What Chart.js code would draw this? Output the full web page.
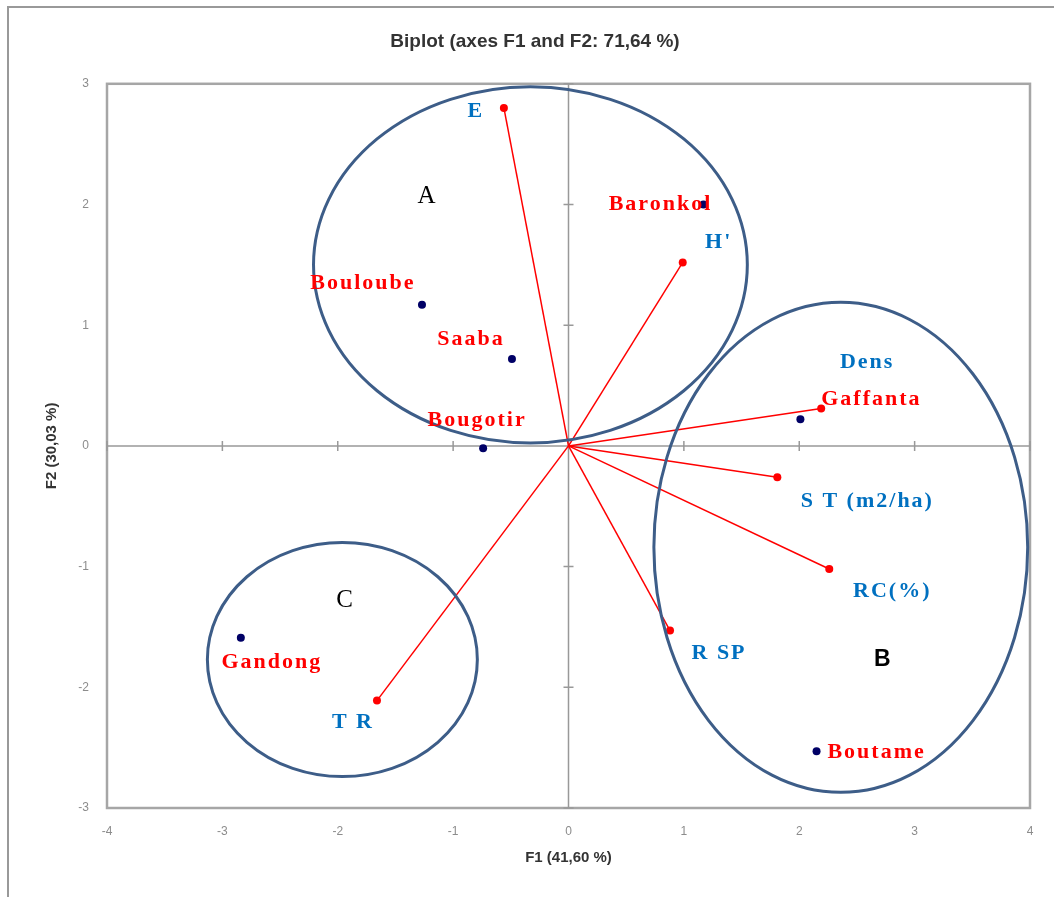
<!DOCTYPE html>
<html>
<head>
<meta charset="utf-8">
<script src="https://cdn.jsdelivr.net/npm/chart.js@4.4.1/dist/chart.umd.min.js"></script>
<style>
  html, body { margin: 0; padding: 0; background: #fff; }
  #wrap { width: 1054px; height: 897px; }
</style>
</head>
<body>
<div id="wrap"><canvas id="biplot"></canvas></div>
<script>
// variables (red vectors, blue labels)
const varNames = ["E", "H'", "Dens", "S T (m2/ha)", "RC(%)", "R SP", "T R"];
const varF1 = [-0.56, 0.99, 2.19, 1.81, 2.26, 0.88, -1.66];
const varF2 = [2.80, 1.52, 0.31, -0.26, -1.02, -1.53, -2.11];

// sites (navy dots, red labels)
const obsNames = ["Baronkol", "Bouloube", "Saaba", "Bougotir", "Gaffanta", "Gandong", "Boutame"];
const obsF1 = [1.17, -1.27, -0.49, -0.74, 2.01, -2.84, 2.15];
const obsF2 = [2.00, 1.17, 0.72, -0.02, 0.22, -1.59, -2.53];

// groups (ellipses)
const groupNames = ["A", "B", "C"];
const groupCx = [-0.33, 2.36, -1.96];
const groupCy = [1.50, -0.84, -1.77];
const groupRx = [1.88, 1.62, 1.17];
const groupRy = [1.475, 2.03, 0.97];
const groupLabelX = [-1.23, 2.72, -1.94];
const groupLabelY = [2.07, -1.77, -1.28];

const xTicks = [-4, -3, -2, -1, 0, 1, 2, 3, 4];
const yTicks = [-3, -2, -1, 0, 1, 2, 3];

// label offsets in pixels (layout only)
const varOffsets = [[-28, 3], [36, -20], [46, -46], [90, 24], [63, 22], [49, 23], [-24, 22]];
const obsOffsets = [[-43, 0], [-59, -21], [-41, -20], [-6, -28], [71, -20], [31, 24], [60, 1]];

const RED = "#ff0000";
const BLUE = "#0070c0";
const NAVY = "#000066";
const RING = "#3d5d88";
const GRAY = "#a6a6a6";

// one small line dataset per variable: origin -> point
const varDatasets = varNames.map((n, i) => ({
    label: n,
    type: "line",
    data: [{ x: 0, y: 0 }, { x: varF1[i], y: varF2[i] }],
    borderColor: RED,
    borderWidth: 1.5,
    pointRadius: [0, 4],
    pointBackgroundColor: RED,
    pointBorderWidth: 0,
    fill: false,
    tension: 0
}));

const obsDataset = {
    label: "sites",
    type: "scatter",
    data: obsF1.map((x, i) => ({ x: x, y: obsF2[i] })),
    backgroundColor: NAVY,
    borderWidth: 0,
    pointRadius: 4
};

// frame, zero axes with tick marks, outer border
const framePlugin = {
    id: "frame",
    beforeDatasetsDraw(chart) {
        const { ctx, chartArea: a, scales: { x, y } } = chart;
        ctx.save();
        ctx.strokeStyle = "#999";
        ctx.lineWidth = 2;
        ctx.beginPath();
        ctx.moveTo(8, chart.height);
        ctx.lineTo(8, 7);
        ctx.lineTo(chart.width, 7);
        ctx.stroke();

        ctx.strokeStyle = GRAY;
        ctx.lineWidth = 2.5;
        ctx.strokeRect(a.left, a.top, a.right - a.left, a.bottom - a.top);

        const x0 = x.getPixelForValue(0);
        const y0 = y.getPixelForValue(0);
        ctx.strokeStyle = "#999";
        ctx.lineWidth = 1.5;
        ctx.beginPath();
        ctx.moveTo(a.left, y0); ctx.lineTo(a.right, y0);
        ctx.moveTo(x0, a.top); ctx.lineTo(x0, a.bottom);
        xTicks.forEach(t => {
            const px = x.getPixelForValue(t);
            ctx.moveTo(px, y0 - 5); ctx.lineTo(px, y0 + 5);
        });
        yTicks.forEach(t => {
            const py = y.getPixelForValue(t);
            ctx.moveTo(x0 - 5, py); ctx.lineTo(x0 + 5, py);
        });
        ctx.stroke();
        ctx.restore();
    }
};

// ellipses and every text label
const labelPlugin = {
    id: "labels",
    afterDatasetsDraw(chart) {
        const { ctx, scales: { x, y } } = chart;
        ctx.save();
        ctx.strokeStyle = RING;
        ctx.lineWidth = 3;
        groupNames.forEach((g, i) => {
            const cx = x.getPixelForValue(groupCx[i]);
            const cy = y.getPixelForValue(groupCy[i]);
            const rx = x.getPixelForValue(groupCx[i] + groupRx[i]) - cx;
            const ry = cy - y.getPixelForValue(groupCy[i] + groupRy[i]);
            ctx.beginPath();
            ctx.ellipse(cx, cy, rx, ry, 0, 0, Math.PI * 2);
            ctx.stroke();
        });

        ctx.textAlign = "center";
        ctx.textBaseline = "middle";
        ctx.font = "bold 22px 'Liberation Serif'";
        ctx.letterSpacing = "2px";
        ctx.fillStyle = BLUE;
        varNames.forEach((n, i) => {
            ctx.fillText(n, x.getPixelForValue(varF1[i]) + varOffsets[i][0],
                y.getPixelForValue(varF2[i]) + varOffsets[i][1]);
        });
        ctx.fillStyle = RED;
        obsNames.forEach((n, i) => {
            ctx.fillText(n, x.getPixelForValue(obsF1[i]) + obsOffsets[i][0],
                y.getPixelForValue(obsF2[i]) + obsOffsets[i][1]);
        });

        ctx.letterSpacing = "0px";
        ctx.fillStyle = "#000";
        groupNames.forEach((g, i) => {
            ctx.font = g === "B" ? "bold 23px 'Liberation Sans'" : "25px 'Liberation Serif'";
            ctx.fillText(g, x.getPixelForValue(groupLabelX[i]), y.getPixelForValue(groupLabelY[i]));
        });
        ctx.restore();
    }
};

new Chart(document.getElementById("biplot"), {
    type: "scatter",
    data: { datasets: [...varDatasets, obsDataset] },
    options: {
        responsive: true,
        maintainAspectRatio: false,
        animation: false,
        layout: { padding: { top: 0, right: 24, bottom: 0, left: 40 } },
        plugins: {
            legend: { display: false },
            tooltip: { enabled: false },
            title: {
                display: true,
                text: "Biplot (axes F1 and F2: 71,64 %)",
                color: "#333",
                font: { family: "'Liberation Sans'", size: 19, weight: "bold" },
                padding: { top: 30, bottom: 31 }
            }
        },
        scales: {
            x: {
                type: "linear",
                min: -4, max: 4,
                grid: { display: false, drawTicks: false },
                border: { display: false },
                afterBuildTicks: s => { s.ticks = xTicks.map(v => ({ value: v })); },
                afterFit: s => { s.height = 89; },
                ticks: { autoSkip: false, padding: 16, color: "#8c8c8c", font: { family: "'Liberation Sans'", size: 12 } },
                title: {
                    display: true,
                    text: "F1 (41,60 %)",
                    color: "#333",
                    font: { family: "'Liberation Sans'", size: 15, weight: "bold" },
                    padding: { top: 0, bottom: 30 }
                }
            },
            y: {
                type: "linear",
                min: -3, max: 3,
                grid: { display: false, drawTicks: false },
                border: { display: false },
                afterBuildTicks: s => { s.ticks = yTicks.map(v => ({ value: v })); },
                afterFit: s => { s.width = 67; },
                ticks: { autoSkip: false, padding: 18, color: "#8c8c8c", font: { family: "'Liberation Sans'", size: 12 } },
                title: {
                    display: true,
                    text: "F2 (30,03 %)",
                    color: "#333",
                    font: { family: "'Liberation Sans'", size: 15, weight: "bold" },
                    padding: { top: 3, bottom: 0 }
                }
            }
        }
    },
    plugins: [framePlugin, labelPlugin]
});
</script>
</body>
</html>
